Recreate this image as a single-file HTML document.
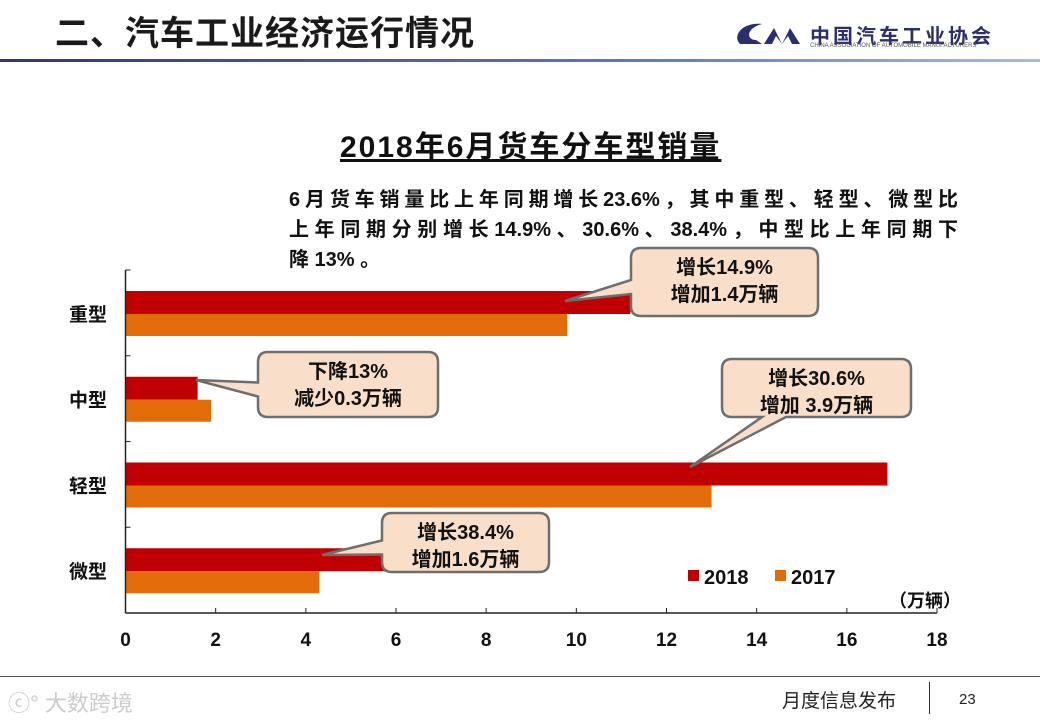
<!DOCTYPE html>
<html><head><meta charset="utf-8">
<style>
body{margin:0;width:1040px;height:720px;background:#fff;position:relative;overflow:hidden;font-family:"Liberation Sans","Noto Sans CJK SC",sans-serif;}
.abs{position:absolute;}
.para{position:absolute;left:289px;width:669px;font-size:20px;font-weight:bold;color:#111;white-space:nowrap;text-align:justify;text-align-last:justify;}
</style></head><body>
<div class="abs" style="left:55px;top:14px;font-size:34px;line-height:40px;font-weight:bold;color:#1a1a1a;letter-spacing:1px;">二、汽车工业经济运行情况</div>
<div class="abs" style="left:732px;top:16px;width:300px;height:36px;">
<svg width="80" height="36"><path d="M30 8 C10 6 0 20 8 28 L30 28 L24 24 C14 24 14 12 30 8Z" fill="#2c2f6e"/><path d="M32 28 L42 12 L50 28 L58 12 L68 28 L60 28 L56 20 L50 28 L44 20 L40 28Z" fill="#2c2f6e"/></svg>
<div class="abs" style="left:78px;top:4px;font-size:20px;font-weight:bold;color:#2c2f6e;letter-spacing:3px;">中国汽车工业协会</div>
<div class="abs" style="left:78px;top:27px;font-size:6px;color:#555;white-space:nowrap;">CHINA ASSOCIATION OF AUTOMOBILE MANUFACTURERS</div>
</div>
<div class="abs" style="left:0;top:59px;width:1040px;height:3px;background:linear-gradient(90deg,#2c3a6e,#5a7bb0 60%,#9ec0dd);"></div>

<div class="abs" style="left:340px;top:122px;font-size:30px;font-weight:bold;color:#111;text-decoration:underline;letter-spacing:2px;">2018年6月货车分车型销量</div>
<div class="para" style="top:183px;">6月货车销量比上年同期增长23.6%，其中重型、轻型、微型比</div>
<div class="para" style="top:213px;">上年同期分别增长14.9%、30.6%、38.4%，中型比上年同期下</div>
<div class="abs" style="left:289px;top:243px;font-size:20px;font-weight:bold;color:#111;">降 13% 。</div>

<svg id="chart" class="abs" style="left:0;top:0" width="1040" height="720"></svg>

<div class="abs" style="left:0;top:676px;width:1040px;height:1px;background:#555;"></div>
<div class="abs" style="left:8px;top:686px;font-size:22px;color:#ccc;">ⓒ° 大数跨境</div>
<div class="abs" style="left:782px;top:686px;font-size:19px;color:#222;">月度信息发布</div>
<div class="abs" style="left:929px;top:682px;width:1px;height:32px;background:#333;"></div>
<div class="abs" style="left:959px;top:691px;font-size:15px;color:#222;">23</div>

<script>
const categories=["重型","中型","轻型","微型"];
const values2018=[11.2,1.6,16.9,5.9];
const values2017=[9.8,1.9,13.0,4.3];
const xTicks=[0,2,4,6,8,10,12,14,16,18];
const calloutLines=[["增长14.9%","增加1.4万辆"],["下降13%","减少0.3万辆"],["增长30.6%","增加 3.9万辆"],["增长38.4%","增加1.6万辆"]];
const NS="http://www.w3.org/2000/svg";
const svg=document.getElementById("chart");
const X0=125.5,X1=937,YT=270,YB=613;
const x=v=>X0+(v-0)/(18-0)*(X1-X0);
const band=(YB-YT)/categories.length;
function mk(t,a){const e=document.createElementNS(NS,t);for(const k in a)e.setAttribute(k,a[k]);svg.appendChild(e);return e;}
categories.forEach((c,i)=>{
  const y0=YT+i*band;
  const r1=mk("rect",{x:X0,y:y0+21,width:x(values2018[i])-X0,height:23,fill:"#c00000"});
  
  
  const r2=mk("rect",{x:X0,y:y0+44,width:x(values2017[i])-X0,height:22,fill:"#e36c0a"});
  
  
  const t=mk("text",{x:107,y:y0+band/2+8,"font-size":19,"font-weight":"bold","text-anchor":"end",fill:"#111"});
  t.textContent=c;
  
  
});
const ya=mk("line",{x1:X0,y1:YT,x2:X0,y2:YB,stroke:"#222","stroke-width":1.5});


const xa=mk("line",{x1:X0,y1:YB,x2:X1,y2:YB,stroke:"#222","stroke-width":1.5});


for(let i=0;i<=categories.length;i++){mk("line",{x1:X0,y1:YT+i*band,x2:X0+5,y2:YT+i*band,stroke:"#222"});}
xTicks.forEach(v=>{
  mk("line",{x1:x(v),y1:YB,x2:x(v),y2:YB-5,stroke:"#222"});
  const t=mk("text",{x:x(v),y:YB+33,"font-size":19,"font-weight":"bold","text-anchor":"middle",fill:"#111"});
  t.textContent=v;
  
  
});
const unit=mk("text",{x:925,y:607,"font-size":18,"font-weight":"bold","text-anchor":"middle",fill:"#111"});
unit.textContent="（万辆）";


[["2018","#c00000",688],["2017","#e36c0a",775]].forEach(([l,c,lx])=>{
  mk("rect",{x:lx,y:570,width:11,height:11,fill:c});
  const t=mk("text",{x:lx+16,y:584,"font-size":20,"font-weight":"bold",fill:"#111"});
  t.textContent=l;
  
  
});
const boxes=[[631,248,818,316,565,301],[258,352,438,417,196,380],[722,359,911,417,690,467],[382,513,549,572,322,555]];
boxes.forEach((b,i)=>{
  const [l,t,r,bt,px,py]=b;
  const my=(t+bt)/2;
  const g=document.createElementNS(NS,"g");svg.appendChild(g);
  
  
  const rad=10;
  let d;
  if(i===2){
    const bx=l+40;
    d=`M${l+rad},${t} H${r-rad} Q${r},${t} ${r},${t+rad} V${bt-rad} Q${r},${bt} ${r-rad},${bt} H${bx+24} L${px},${py} L${bx},${bt} H${l+rad} Q${l},${bt} ${l},${bt-rad} V${t+rad} Q${l},${t} ${l+rad},${t} Z`;
  } else {
    d=`M${l+rad},${t} H${r-rad} Q${r},${t} ${r},${t+rad} V${bt-rad} Q${r},${bt} ${r-rad},${bt} H${l+rad} Q${l},${bt} ${l},${bt-rad} V${my+12} L${px},${py} L${l},${my-2} V${t+rad} Q${l},${t} ${l+rad},${t} Z`;
  }
  const p=document.createElementNS(NS,"path");
  p.setAttribute("d",d);p.setAttribute("fill","#f9dfca");p.setAttribute("stroke","#6e6e6e");p.setAttribute("stroke-width","2.5");
  g.appendChild(p);
  calloutLines[i].forEach((ln,k)=>{
    const tx=document.createElementNS(NS,"text");
    tx.setAttribute("x",(l+r)/2);tx.setAttribute("y",t+26+k*27);
    tx.setAttribute("font-size","20");tx.setAttribute("font-weight","bold");tx.setAttribute("text-anchor","middle");tx.setAttribute("fill","#111");
    tx.textContent=ln;
    g.appendChild(tx);
  });
});
</script>
</body></html>
